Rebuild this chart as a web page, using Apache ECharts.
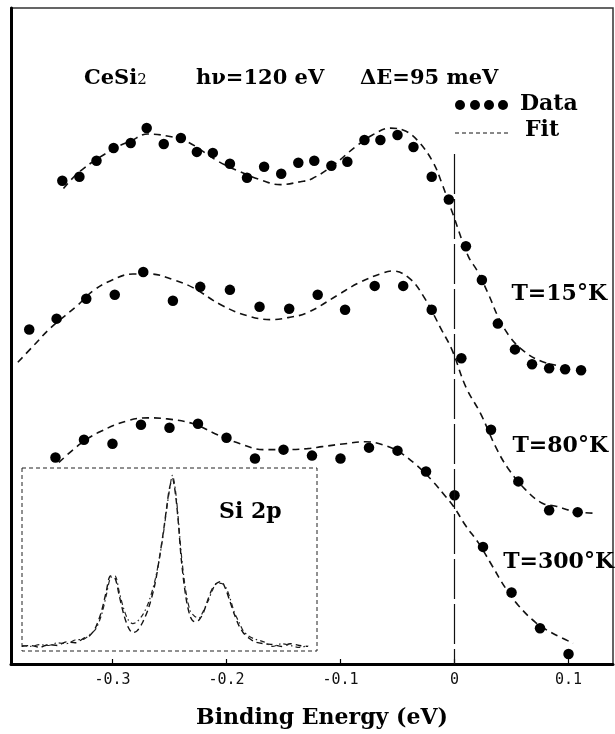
<!DOCTYPE html>
<html>
<head>
<meta charset="utf-8">
<script src="https://cdn.jsdelivr.net/npm/echarts@6/dist/echarts.min.js"></script>
<style>
  html, body { margin: 0; padding: 0; background: #fff; }
  #main { width: 615px; height: 734px; }
</style>
</head>
<body>
<div id="main"></div>
<script>
// CeSi2 spectra, intensity in arbitrary units (0 at the bottom axis)
var tickValues = [-0.3, -0.2, -0.1, 0, 0.1];

// T = 15 K
var eTop = [-0.344, -0.329, -0.314, -0.299, -0.284, -0.270, -0.255, -0.240, -0.226, -0.212, -0.197, -0.182, -0.167, -0.152, -0.137, -0.123,
            -0.108, -0.094, -0.079, -0.065, -0.050, -0.036, -0.020, -0.005, 0.010, 0.024, 0.038, 0.053, 0.068, 0.083, 0.097, 0.111];
var iTop = [487, 491, 507, 520, 525, 540, 524, 530, 516, 515, 504, 490, 501, 494, 505, 507,
            502, 506, 528, 528, 533, 521, 491, 468, 421, 387, 343, 317, 302, 298, 297, 296];
var eTopFit = [-0.343, -0.328, -0.299, -0.284, -0.269, -0.252, -0.234, -0.208, -0.188, -0.168, -0.153, -0.135, -0.125, -0.107, -0.087,
               -0.072, -0.056, -0.043, -0.032, -0.019, -0.011, -0.001, 0.012, 0.020, 0.030, 0.039, 0.049, 0.060, 0.074, 0.089];
var iTopFit = [479, 497, 519, 527, 534, 532, 526, 507, 496, 487, 483, 486, 489, 502, 521,
               533, 540, 537, 527, 506, 484, 452, 411, 396, 372, 348, 329, 316, 306, 301];

// T = 80 K
var eMid = [-0.373, -0.349, -0.323, -0.298, -0.273, -0.247, -0.223, -0.197, -0.171, -0.145,
            -0.120, -0.096, -0.070, -0.045, -0.020, 0.006, 0.032, 0.056, 0.083, 0.108];
var iMid = [337, 348, 368, 372, 395, 366, 380, 377, 360, 358, 372, 357, 381, 381, 357, 308, 236, 184, 155, 153];
var eMidFit = [-0.383, -0.369, -0.354, -0.331, -0.317, -0.302, -0.282, -0.267, -0.246, -0.229, -0.205, -0.182, -0.161, -0.146, -0.129,
               -0.102, -0.084, -0.063, -0.054, -0.040, -0.028, -0.011, -0.002, 0.010, 0.023, 0.036, 0.047, 0.062, 0.077, 0.089, 0.104, 0.121];
var iMidFit = [304, 321, 339, 361, 376, 386, 393, 393, 387, 379, 362, 351, 347, 349, 354,
               372, 384, 394, 396, 389, 372, 336, 316, 279, 252, 219, 197, 176, 162, 159, 154, 152];

// T = 300 K
var eBot = [-0.350, -0.325, -0.300, -0.275, -0.250, -0.225, -0.200, -0.175, -0.150, -0.125,
            -0.100, -0.075, -0.050, -0.025, 0.000, 0.025, 0.050, 0.075, 0.100];
var iBot = [208, 226, 222, 241, 238, 242, 228, 207, 216, 210, 207, 218, 215, 194, 170, 118, 72, 36, 10];
var eBotFit = [-0.347, -0.328, -0.311, -0.287, -0.269, -0.252, -0.229, -0.208, -0.188, -0.168, -0.150, -0.129, -0.116, -0.096, -0.078,
               -0.063, -0.049, -0.034, -0.019, -0.008, -0.001, 0.010, 0.021, 0.033, 0.045, 0.056, 0.071, 0.086, 0.104];
var iBotFit = [203, 222, 234, 245, 248, 247, 242, 231, 222, 216, 216, 217, 219, 222, 224,
               221, 214, 201, 184, 169, 159, 139, 122, 99, 76, 59, 42, 31, 21];

// Si 2p inset (relative units)
var siX = [0, 3, 6, 9, 12, 15, 18, 21, 23, 25, 27, 28.5, 30, 31.5, 33, 34.5, 36, 37.5, 39, 41, 43, 45, 46.5, 48, 49, 50, 51, 52, 53, 54,
           55.5, 57, 58.5, 60, 61.5, 63, 64.5, 66, 67.5, 69, 70.5, 72, 73.5, 75, 77, 79, 82, 85, 88, 91, 94, 97];
var siA = [2.5, 3, 2, 3.5, 3, 5, 4.5, 7, 8.5, 13, 22, 32, 41, 40, 30, 20, 13, 10, 11, 16, 24, 36, 50, 66, 78, 89, 94, 86, 70, 50,
           30, 19, 16, 17, 21, 28, 34, 37, 38, 34, 27, 20, 14, 10, 7, 5, 4, 3.5, 2.5, 4, 3, 2.5];
var siB = [3, 2.5, 3.5, 3, 4.5, 4, 6, 6.5, 9, 12, 20, 30, 40, 41, 32, 23, 17, 15, 16, 20, 27, 38, 50, 65, 77, 88, 96, 88, 72, 53,
           33, 22, 19, 18, 22, 27, 33, 37, 37, 35, 29, 21, 16, 11, 8, 6.5, 5, 2.5, 4, 3, 2, 3];

function pairs(xs, ys) {
    return xs.map(function (x, i) { return [x, ys[i]]; });
}

var serifFont = 'DejaVu Serif';
var chart = echarts.init(document.getElementById('main'));

function dots(xs, ys) {
    return {
        type: 'scatter', xAxisIndex: 0, yAxisIndex: 0,
        data: pairs(xs, ys), symbolSize: 10.5,
        itemStyle: { color: '#000', opacity: 1 }, z: 4
    };
}
function fit(xs, ys) {
    return {
        type: 'line', xAxisIndex: 0, yAxisIndex: 0,
        data: pairs(xs, ys), smooth: 0.4, showSymbol: false,
        lineStyle: { color: '#111', width: 1.6, type: [7, 5] }, z: 3
    };
}

var topSeries = dots(eTop, iTop);
// vertical marker at E = 0
topSeries.markLine = {
    silent: true, symbol: 'none', label: { show: false },
    lineStyle: { color: '#111', width: 1.2, type: [40, 5] },
    data: [[{ coord: [0, 514] }, { coord: [0, 0] }]]
};

option = {
    animation: false,
    backgroundColor: '#fff',
    grid: [
        { left: 11, right: 2, top: 8, bottom: 65, show: true, borderColor: '#333', borderWidth: 1.5 },
        { left: 22, top: 468, width: 295, height: 183 }
    ],
    xAxis: [
        {
            type: 'value', gridIndex: 0, min: -0.389, max: 0.139,
            axisLine: { onZero: false, lineStyle: { color: '#000', width: 3 } },
            axisTick: { inside: true, length: 5, customValues: tickValues, lineStyle: { color: '#000', width: 1.2 } },
            axisLabel: {
                customValues: tickValues, margin: 9, color: '#111', fontFamily: 'DejaVu Sans Mono', fontSize: 15,
                formatter: function (v) { return v === 0 ? '0' : v.toFixed(1); }
            },
            splitLine: { show: false },
            name: 'Binding Energy (eV)', nameLocation: 'middle', nameGap: 43,
            nameTextStyle: { fontFamily: serifFont, fontWeight: 'bold', fontSize: 22, color: '#000', padding: [0, 0, 0, 20] }
        },
        { type: 'value', gridIndex: 1, min: 0, max: 100, show: false }
    ],
    yAxis: [
        {
            type: 'value', gridIndex: 0, min: 0, max: 661,
            axisLine: { show: true, onZero: false, lineStyle: { color: '#000', width: 3 } },
            axisTick: { show: false }, axisLabel: { show: false }, splitLine: { show: false }
        },
        { type: 'value', gridIndex: 1, min: 0, max: 100, show: false }
    ],
    series: [
        topSeries, fit(eTopFit, iTopFit),
        dots(eMid, iMid), fit(eMidFit, iMidFit),
        dots(eBot, iBot), fit(eBotFit, iBotFit),
        {
            type: 'line', xAxisIndex: 1, yAxisIndex: 1, data: pairs(siX, siA), showSymbol: false, smooth: 0.3,
            lineStyle: { color: '#111', width: 1.4, type: [6, 4] }
        },
        {
            type: 'line', xAxisIndex: 1, yAxisIndex: 1, data: pairs(siX, siB), showSymbol: false, smooth: 0.3,
            lineStyle: { color: '#222', width: 1.2, type: [5, 3, 1.5, 3] }
        }
    ],
    graphic: [
        { type: 'text', left: 84, top: 68, style: { text: '{b|CeSi}{s|2}', rich: { b: { fontFamily: serifFont, fontWeight: 'bold', fontSize: 21, fill: '#000' }, s: { fontFamily: serifFont, fontSize: 15, fill: '#000', padding: [4, 0, 0, 0] } } } },
        { type: 'text', left: 196, top: 68, style: { text: 'h\u03bd=120 eV', font: 'bold 21px "DejaVu Serif"', fill: '#000' } },
        { type: 'text', left: 360, top: 68, style: { text: '\u0394E=95 meV', font: 'bold 21px "DejaVu Serif"', fill: '#000' } },

        { type: 'circle', shape: { cx: 460, cy: 105, r: 5 }, style: { fill: '#000' } },
        { type: 'circle', shape: { cx: 475, cy: 105, r: 5 }, style: { fill: '#000' } },
        { type: 'circle', shape: { cx: 489, cy: 105, r: 5 }, style: { fill: '#000' } },
        { type: 'circle', shape: { cx: 503, cy: 105, r: 5 }, style: { fill: '#000' } },
        { type: 'text', left: 520, top: 93, style: { text: 'Data', font: 'bold 22px "DejaVu Serif"', fill: '#000' } },
        { type: 'line', shape: { x1: 455, y1: 133, x2: 509, y2: 133 }, style: { stroke: '#111', lineWidth: 1, lineDash: [4, 3] } },
        { type: 'text', left: 525, top: 119, style: { text: 'Fit', font: 'bold 22px "DejaVu Serif"', fill: '#000' } },

        { type: 'text', right: 8, top: 283, style: { text: 'T=15\u00b0K', font: 'bold 22px "DejaVu Serif"', fill: '#000' } },
        { type: 'text', right: 7, top: 435, style: { text: 'T=80\u00b0K', font: 'bold 22px "DejaVu Serif"', fill: '#000' } },
        { type: 'text', right: 1, top: 551, style: { text: 'T=300\u00b0K', font: 'bold 22px "DejaVu Serif"', fill: '#000' } },

        { type: 'rect', shape: { x: 22, y: 468, width: 295, height: 183 }, style: { fill: 'none', stroke: '#222', lineWidth: 1, lineDash: [4, 3] } },
        { type: 'text', left: 219, top: 501, style: { text: 'Si 2p', font: 'bold 22px "DejaVu Serif"', fill: '#000' } }
    ]
};
chart.setOption(option);
</script>
</body>
</html>
